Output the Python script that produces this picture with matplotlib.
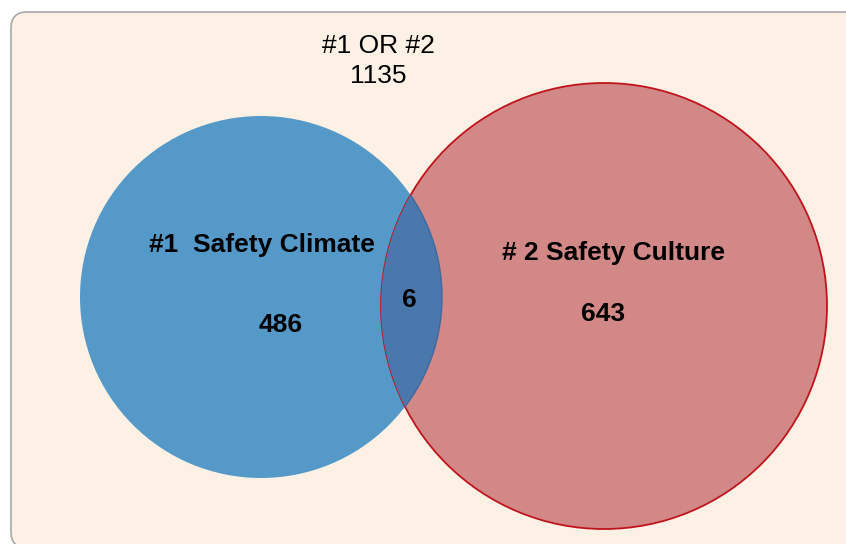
import matplotlib
matplotlib.use("Agg")
import matplotlib.pyplot as plt
from matplotlib.patches import Circle, FancyBboxPatch

plt.rcParams['font.family'] = ['Liberation Sans', 'DejaVu Sans']

# data
set_names = ["#1  Safety Climate", "# 2 Safety Culture"]
only_counts = [486, 643]
both_count = 6
union_label = "#1 OR #2"
union_count = 1135

# layout (pixel coords)
W, H = 846, 544
circ_centers = [(261, 297), (604, 306)]
circ_radii = [181, 223]

fig = plt.figure(figsize=(W / 100, H / 100), dpi=100)
ax = fig.add_axes([0, 0, 1, 1])
ax.set_xlim(0, W)
ax.set_ylim(H, 0)
ax.axis('off')

# background panel
bg = FancyBboxPatch((11, 12), 900, 536, boxstyle="round,pad=0,rounding_size=16",
                    facecolor='#FDF0E5', edgecolor='#A8A8A8', lw=1.2)
ax.add_patch(bg)

blue = Circle(circ_centers[0], circ_radii[0], facecolor='#5599C9', edgecolor='none', zorder=2)
ax.add_patch(blue)
red = Circle(circ_centers[1], circ_radii[1], facecolor='#D38888', edgecolor='#C0141C',
             lw=1.3, zorder=3)
ax.add_patch(red)

# overlap: blue circle clipped to the red one
lens = Circle(circ_centers[0], circ_radii[0], facecolor='#4A78AD', edgecolor='#3F69A0',
              lw=1.0, zorder=4)
ax.add_patch(lens)
clip = Circle(circ_centers[1], circ_radii[1], transform=ax.transData)
lens.set_clip_path(clip)

# texts
fs = 19
ax.text(378, 46, union_label, ha='center', va='center', fontsize=fs)
ax.text(378, 76, str(union_count), ha='center', va='center', fontsize=fs)

ax.text(262, 245, set_names[0], ha='center', va='center', fontsize=fs, fontweight='bold', zorder=5)
ax.text(281, 325, str(only_counts[0]), ha='center', va='center', fontsize=fs, fontweight='bold', zorder=5)
ax.text(613, 253, set_names[1], ha='center', va='center', fontsize=fs, fontweight='bold', zorder=5)
ax.text(603, 314, str(only_counts[1]), ha='center', va='center', fontsize=fs, fontweight='bold', zorder=5)
ax.text(409, 300, str(both_count), ha='center', va='center', fontsize=fs, fontweight='bold', zorder=5)

fig.savefig("out.png", dpi=100, facecolor='white')
